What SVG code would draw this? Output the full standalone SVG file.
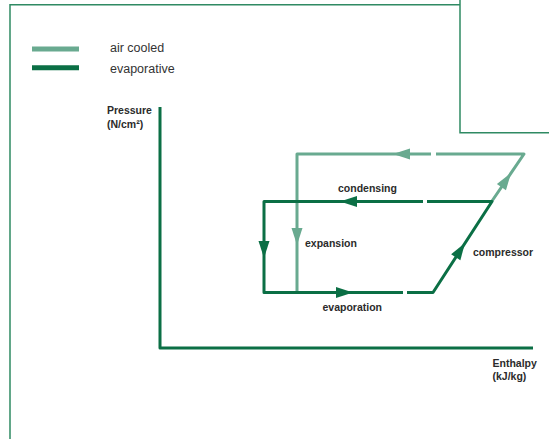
<svg xmlns="http://www.w3.org/2000/svg" width="549" height="439" viewBox="0 0 549 439">
  <style>
    .frame { fill: none; stroke: #2f8a63; stroke-width: 1.5; }
    .dark { fill: none; stroke: #0b6f45; stroke-width: 3; stroke-linejoin: round; }
    .light { fill: none; stroke: #69aa90; stroke-width: 3; stroke-linejoin: round; }
    .leg { fill: #333333; font-family: "Liberation Sans", Arial, sans-serif; font-size: 12.5px; }
    .lbl { fill: #2b2b2b; font-family: "Liberation Sans", Arial, sans-serif; font-size: 10.5px; font-weight: bold; }
    .ahd { fill: #0b6f45; }
    .ahl { fill: #69aa90; }
  </style>
  <defs>
    <path id="ah" d="M0,0 L-17,-5.5 L-17,5.5 Z"/>
  </defs>
  <rect width="549" height="439" fill="#ffffff"/>
  <g id="frame">
    <path class="frame" d="M10,439 V4.7 H460"/>
    <path class="frame" d="M460,0 V132.7 H549"/>
  </g>
  <g id="legend">
    <line x1="32" y1="49" x2="79" y2="49" stroke="#69aa90" stroke-width="5"/>
    <line x1="32" y1="67.7" x2="79" y2="67.7" stroke="#0b6f45" stroke-width="5"/>
    <text class="leg" x="110" y="52">air cooled</text>
    <text class="leg" x="110" y="72.5">evaporative</text>
  </g>
  <g id="axes">
    <path class="dark" d="M160,107 V348 H533" stroke-linejoin="miter"/>
    <text class="lbl" x="107" y="114">Pressure</text>
    <text class="lbl" x="107" y="127.5">(N/cm²)</text>
    <text class="lbl" x="492.5" y="366.5">Enthalpy</text>
    <text class="lbl" x="492.5" y="380">(kJ/kg)</text>
  </g>
  <g id="connectors">
    <path class="light" d="M431,154 H297 V292"/>
    <path class="light" d="M436,154 H524 L492,201"/>
    <path class="dark" d="M423,201.5 H264 V292.5 H403"/>
    <path class="dark" d="M427,201.5 H492 L433,292.5 H407"/>
    <use href="#ah" class="ahl" transform="translate(393,154) rotate(180)"/>
    <use href="#ah" class="ahl" transform="translate(297,245) rotate(90)"/>
    <use href="#ah" class="ahl" transform="translate(511,173) rotate(-55.7)"/>
    <use href="#ah" class="ahd" transform="translate(340,201.5) rotate(180)"/>
    <use href="#ah" class="ahd" transform="translate(264,258) rotate(90)"/>
    <use href="#ah" class="ahd" transform="translate(353,292.5)"/>
    <use href="#ah" class="ahd" transform="translate(465,243) rotate(-57)"/>
  </g>
  <g id="labels">
    <text class="lbl" x="338" y="192">condensing</text>
    <text class="lbl" x="305" y="246.5">expansion</text>
    <text class="lbl" x="473" y="256">compressor</text>
    <text class="lbl" x="322.5" y="310.5">evaporation</text>
  </g>
</svg>
